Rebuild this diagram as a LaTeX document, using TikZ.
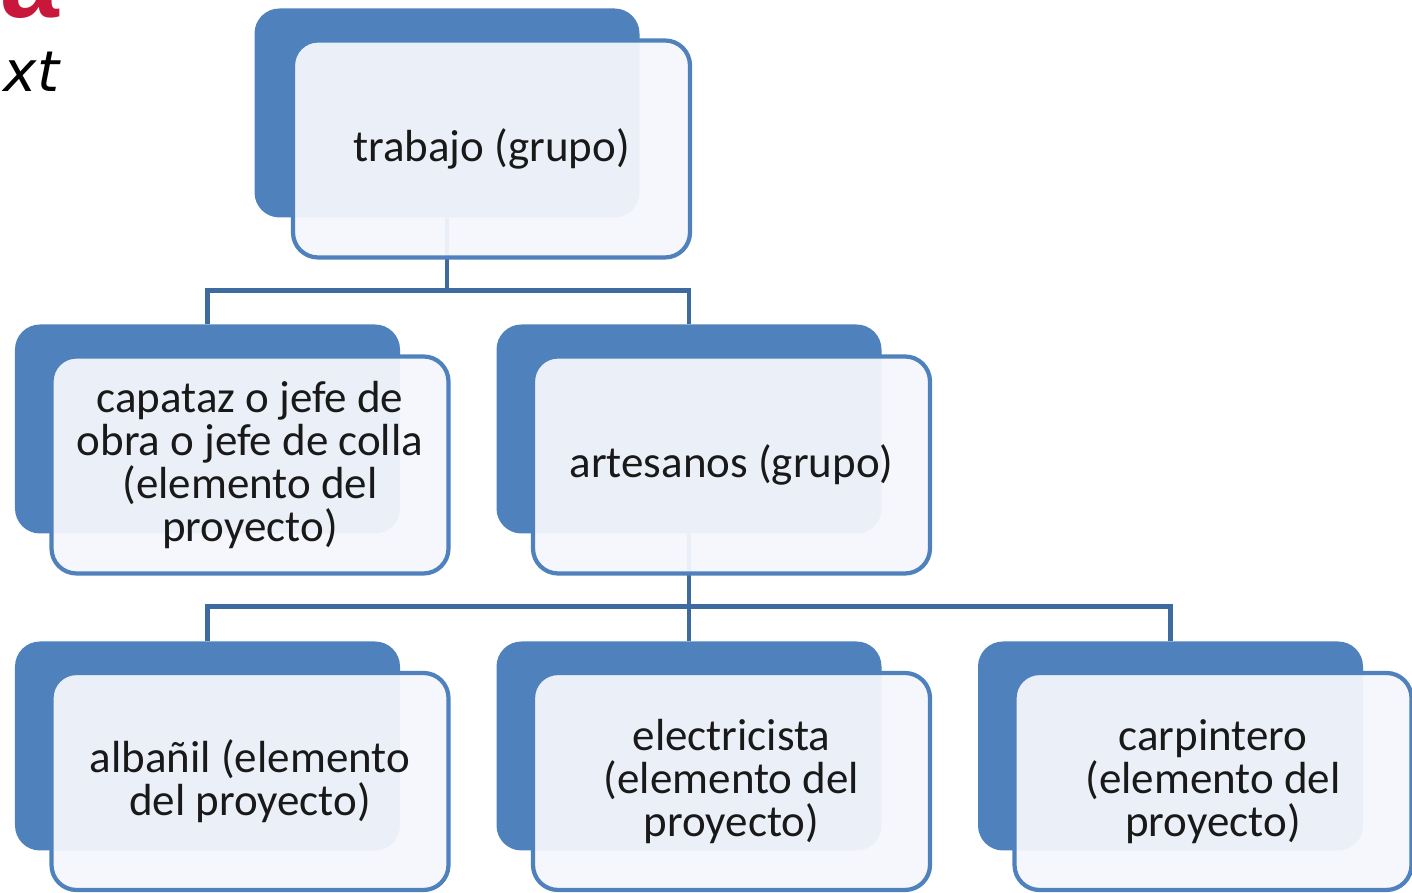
\documentclass[tikz,border=0pt]{standalone}
\usepackage{fontspec}
\setmainfont{Carlito}
\newfontfamily\oblicua{DejaVu Sans}
\newfontfamily\titulo{Liberation Sans}
\definecolor{azulfondo}{HTML}{4F81BD}
\definecolor{azulconector}{HTML}{3E6B9F}
\definecolor{azulclaro}{HTML}{F4F7FC}
\definecolor{rojotitulo}{HTML}{C8173A}
\tikzset{
  fondo/.style={fill=azulfondo, rounded corners=0.25cm, minimum width=3.85cm, minimum height=2.09cm, inner sep=0pt},
  caja/.style={draw=azulfondo, line width=1.2pt, fill=azulclaro, fill opacity=0.95, text opacity=1, rounded corners=0.25cm, minimum width=3.97cm, minimum height=2.17cm, align=center, font=\fontsize{12.8}{12.2}\selectfont, text=black!90},
  conector/.style={draw=azulconector, line width=1.4pt}
}
\begin{document}
\begin{tikzpicture}
                \useasboundingbox (0,0) rectangle (14.12,8.93);
                \clip (0,0) rectangle (14.12,8.93);
                \node[anchor=base west, inner sep=0pt, text=rojotitulo, font=\titulo\bfseries\fontsize{30}{30}\selectfont] (letra) at (0,8.75) {a};
                \node[anchor=base east, inner sep=0pt, font=\oblicua\itshape\fontsize{16}{16}\selectfont] (xt) at (0.60,8.01) {xt};
                \node[fondo] (trabajofondo) at (4.47,7.80) {};
                \node[fondo] (capatazfondo) at (2.075,4.64) {};
                \node[fondo] (artesanosfondo) at (6.89,4.64) {};
                \node[fondo] (albanilfondo) at (2.075,1.47) {};
                \node[fondo] (electricistafondo) at (6.89,1.47) {};
                \node[fondo] (carpinterofondo) at (11.705,1.47) {};
                \draw[conector] (trabajofondo.south)--++(0,-0.72)-|(capatazfondo.north);
                \draw[conector] (trabajofondo.south)--++(0,-0.72)-|(artesanosfondo.north);
                \draw[conector] (artesanosfondo.south)--++(0,-0.72)-|(albanilfondo.north);
                \draw[conector] (artesanosfondo.south)--(electricistafondo.north);
                \draw[conector] (artesanosfondo.south)--++(0,-0.72)-|(carpinterofondo.north);
                \node[caja] (trabajo) at (4.915,7.44) {trabajo (grupo)};
                \node[caja] (capataz) at (2.50,4.28) {capataz o jefe de\\obra o jefe de colla\\(elemento del\\proyecto)};
                \node[caja] (artesanos) at (7.315,4.28) {artesanos (grupo)};
                \node[caja] (albanil) at (2.50,1.115) {albañil (elemento\\del proyecto)};
                \node[caja] (electricista) at (7.315,1.115) {electricista\\(elemento del\\proyecto)};
                \node[caja] (carpintero) at (12.13,1.115) {carpintero\\(elemento del\\proyecto)};
            \end{tikzpicture}
\end{document}
